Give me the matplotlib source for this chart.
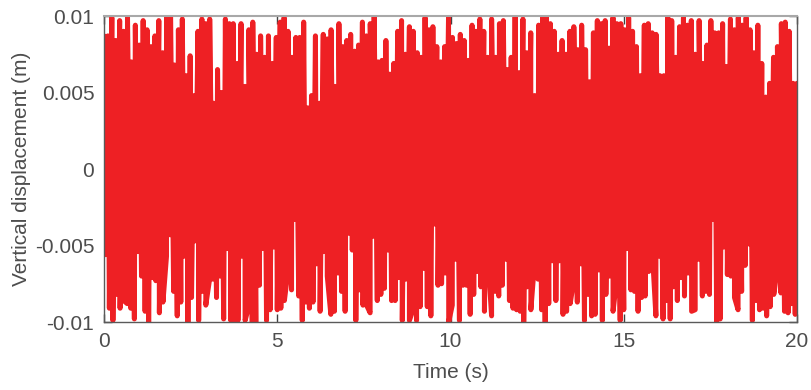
import numpy as np
import matplotlib
matplotlib.use("Agg")
import matplotlib.pyplot as plt

plt.rcParams['font.family'] = ['Liberation Sans', 'DejaVu Sans']

# Successive positive and negative peak displacements, in units of 0.1 mm
upper_peaks = [
    87, 87, 99, 84, 97, 90, 100, 70, 94, 81, 97, 91, 80, 87, 97, 76, 99, 100, 68, 91,
    98, 61, 74, 48, 90, 98, 95, 98, 43, 65, 50, 98, 95, 95, 69, 95, 54, 91, 96, 75,
    87, 73, 87, 69, 86, 96, 99, 90, 73, 86, 86,
    96, 40, 48, 87, 43, 88, 85, 91, 54, 95, 80, 84, 88, 77, 81, 96, 87, 95, 100, 70,
    71, 84, 62, 69, 90, 97, 75, 93, 90, 76, 73, 99, 91, 93, 80, 70, 80, 100, 86, 82,
    88, 84, 71, 94, 90, 98, 90, 73, 98, 73, 95, 97, 65, 73, 100, 63, 98, 76, 89,
    48, 94, 99, 100, 95, 90, 75, 84, 75, 90, 93, 78, 94, 78, 57, 89, 97, 95, 97, 79,
    99, 95, 95, 91, 99, 90, 80, 61, 94, 95, 89, 88, 61, 61, 99, 97, 73, 93, 99, 94,
    97, 75, 97, 69, 81, 97, 89, 89, 95, 67, 98, 91, 99, 94, 99, 91, 76, 94, 69, 47,
    56, 73, 80, 95, 96, 90, 56, 56,
]
lower_peaks = [
    -56, -91, -99, -82, -91, -86, -88, -91, -98, -54, -70, -93, -100, -71, -73, -94, -87, -57, -43, -80,
    -96, -87, -57, -100, -84, -47, -99, -80, -89, -73, -72, -84, -70, -98, -52, -99, -100, -99, -57, -99,
    -90, -100, -100, -76, -52, -99, -92, -51, -92, -91, -86, -67, -79, -33, -83, -99, -87, -91, -87, -62,
    -93, -54, -70, -95, -93,
    -68, -80, -93, -42, -53, -99, -79, -89, -89, -94, -44, -86, -82, -78, -53, -86, -86, -71, -99, -72,
    -99, -92, -99, -90, -65, -90, -96, -36, -76, -75, -68, -100, -89, -59, -99, -76, -76, -95, -82, -67,
    -77, -93, -59, -96, -80, -83, -76, -59, -86, -91, -92, -93, -100, -77, -92, -62, -72, -92, -100, -88,
    -60, -86, -60, -95,
    -93, -88, -73, -87, -62, -99, -82, -96, -95, -66, -99, -82, -70, -93, -73, -99, -92, -52, -79, -80,
    -93, -84, -83, -67, -54, -96, -57, -98, -86, -98, -77, -86, -71, -83, -68, -93, -92, -59, -83, -80,
    -82, -33, -100, -98, -51, -69, -70, -84, -92, -80, -63, -49, -99, -86, -92, -91, -96, -90, -82, -65,
    -81, -93, -94, -88, -95,
]
duration = 20.0
y_ticks = [-0.01, -0.005, 0, 0.005, 0.01]
y_tick_labels = ["-0.01", "-0.005", "0", "0.005", "0.01"]
x_ticks = [0, 5, 10, 15, 20]

# Merge the two peak sequences into one time-ordered record
up = np.asarray(upper_peaks, dtype=float) * 1e-4
lo = np.asarray(lower_peaks, dtype=float) * 1e-4
t_up = np.linspace(0, duration, len(up))
dt_lo = duration / len(lo)
t_lo = np.linspace(dt_lo / 2, duration - dt_lo / 2, len(lo))
t = np.concatenate([t_up, t_lo])
y = np.concatenate([up, lo])
order = np.argsort(t, kind="stable")
t, y = t[order], y[order]

fig = plt.figure(figsize=(8.12, 3.90), dpi=100)
ax = fig.add_axes([104 / 812, 68 / 390, 693 / 812, 306 / 390])

ax.plot(t, y, color="#EE2024", lw=3.6, solid_joinstyle="round", solid_capstyle="round")

ax.set_xlim(0, duration)
ax.set_ylim(-0.01, 0.01)
ax.set_xticks(x_ticks)
ax.set_xticklabels([str(v) for v in x_ticks])
ax.set_yticks(y_ticks)
ax.set_yticklabels(y_tick_labels)

label_color = "#4D4D4D"
ax.tick_params(axis="both", direction="in", length=6, width=1, color="#404040",
               labelsize=15, labelcolor=label_color, pad=7,
               top=True, right=True)
for side in ("left", "bottom", "right"):
    ax.spines[side].set_color("#5A5A5A")
    ax.spines[side].set_linewidth(1.0)
ax.spines["top"].set_color("#A8A8A8")
ax.spines["top"].set_linewidth(1.5)

ax.set_xlabel("Time (s)", fontsize=15, color=label_color, labelpad=9)
ax.set_ylabel("Vertical displacement (m)", fontsize=15, color=label_color, labelpad=3)

fig.savefig("out.png", dpi=100)
